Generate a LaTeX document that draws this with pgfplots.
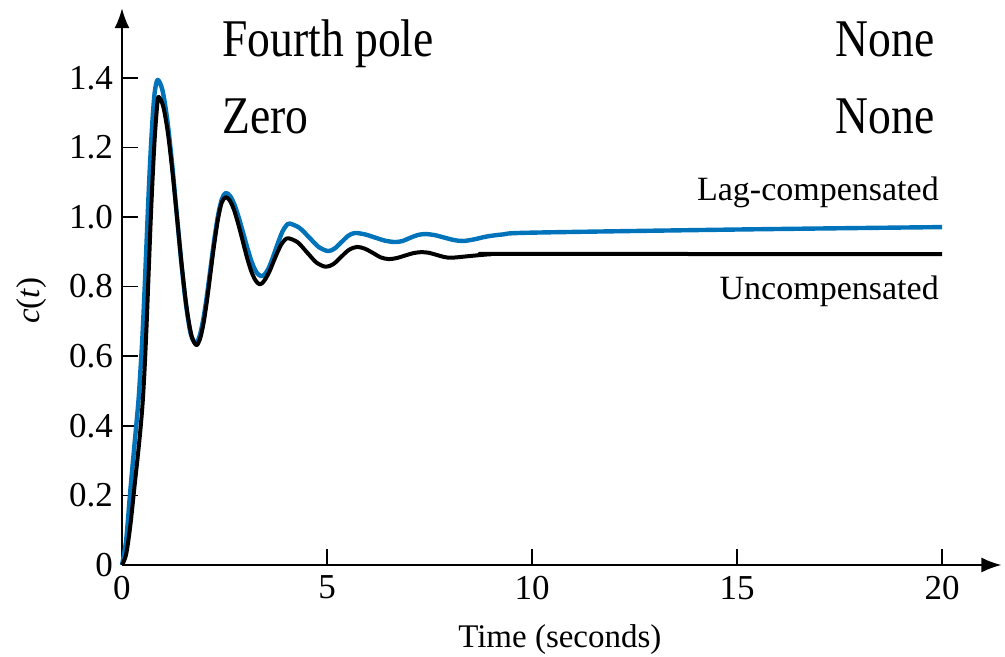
\documentclass[border=0pt]{standalone}
\usepackage{pgfplots}
\pgfplotsset{compat=1.18}
\usepackage{graphicx}
\usepackage{fontspec}
\setmainfont{Liberation Serif}
\usetikzlibrary{arrows.meta}
\definecolor{lagblue}{RGB}{0,115,186}
\begin{document}
\begin{tikzpicture}
\begin{axis}[
  x=20.5pt, y=174pt,
  xmin=0, xmax=21.45, ymin=0, ymax=1.6,
  axis x line*=bottom, axis y line*=left,
  axis line style={line width=1pt, -{Latex[length=10pt,width=7.5pt]}},
  tick align=inside,
  major tick length=8pt,
  tick style={black, line width=0.8pt},
  xtick={0,5,10,15,20},
  ytick={0,0.2,0.4,0.6,0.8,1.0,1.2,1.4},
  yticklabels={0,0.2,0.4,0.6,0.8,1.0,1.2,1.4},
  /pgf/number format/assume math mode=true,
  tick label style={font=\fontsize{17.5}{20}\selectfont},
  xticklabel style={yshift=-2pt},
  yticklabel style={xshift=-1pt},
  xlabel={Time (seconds)},
  ylabel={\textit{c}(\textit{t})},
  label style={font=\fontsize{16.5}{20}\selectfont},
  x label style={at={(axis cs:10.68,-0.2385)}, anchor=base},
  y label style={at={(axis cs:-2.2,0.76)}, anchor=center, rotate=0},
  clip=false,
]
\addplot[lagblue, line width=2.2pt, smooth, line join=round] coordinates {
(0,0) (0.1,0.07) (0.2,0.21) (0.3,0.34) (0.4,0.47) (0.45,0.56) (0.5,0.66)
(0.55,0.79) (0.6,0.93) (0.65,1.07) (0.7,1.19) (0.75,1.29) (0.8,1.36)
(0.87,1.394) (0.985,1.365) (1.10,1.283) (1.215,1.161) (1.33,1.016)
(1.445,0.871) (1.56,0.749) (1.675,0.665) (1.79,0.638) (1.8825,0.654)
(1.975,0.701) (2.0675,0.771) (2.16,0.854) (2.2525,0.936) (2.345,1.006)
(2.4375,1.052) (2.53,1.069) (2.639,1.060) (2.7475,1.034) (2.856,0.995)
(2.965,0.950) (3.074,0.904) (3.1825,0.865) (3.291,0.839) (3.40,0.830)
(3.486,0.836) (3.5725,0.852) (3.659,0.877) (3.745,0.906) (3.831,0.934)
(3.9175,0.959) (4.004,0.975) (4.09,0.981) (4.325,0.969) (4.56,0.942)
(4.795,0.914) (5.03,0.902) (5.1925,0.910) (5.355,0.928) (5.5175,0.946)
(5.68,0.954) (5.925,0.950) (6.17,0.941) (6.415,0.932) (6.66,0.928)
(6.8425,0.931) (7.025,0.940) (7.2075,0.948) (7.39,0.951) (7.6225,0.948)
(7.855,0.941) (8.0875,0.934) (8.32,0.931) (8.6,0.936) (8.9,0.944)
(9.3,0.950) (10,0.955) (15,0.964) (20,0.971)
};
\addplot[black, line width=2pt, smooth, line join=round] coordinates {
(0,0) (0.1,0.03) (0.2,0.11) (0.3,0.22) (0.4,0.33) (0.45,0.39) (0.5,0.46)
(0.55,0.56) (0.6,0.69) (0.65,0.84) (0.7,0.99) (0.75,1.12) (0.8,1.23)
(0.85,1.31) (0.89,1.345) (1.005,1.318) (1.12,1.241) (1.235,1.125)
(1.35,0.989) (1.465,0.852) (1.58,0.736) (1.695,0.659) (1.81,0.632)
(1.899,0.648) (1.988,0.694) (2.076,0.763) (2.165,0.845) (2.254,0.926)
(2.343,0.995) (2.431,1.041) (2.53,1.057) (2.63,1.047) (2.73,1.021)
(2.835,0.980) (2.94,0.933) (3.045,0.885) (3.15,0.845) (3.255,0.818)
(3.35,0.807) (3.43,0.811) (3.52,0.826) (3.61,0.847) (3.70,0.873)
(3.79,0.898) (3.88,0.920) (3.97,0.934) (4.06,0.939) (4.288,0.927)
(4.515,0.898) (4.743,0.869) (4.97,0.857) (5.16,0.865) (5.35,0.886)
(5.54,0.906) (5.73,0.914) (5.92,0.909) (6.115,0.897) (6.31,0.884)
(6.5,0.879) (6.7,0.882) (6.9,0.889) (7.1,0.896) (7.3,0.899) (7.49,0.897)
(7.675,0.891) (7.86,0.885) (8.05,0.883) (8.5,0.888) (9.0,0.893)
(9.5,0.894) (20,0.893)
};
\node[anchor=base west, inner sep=0pt, font=\fontsize{26.5}{30}\selectfont] at (axis cs:2.44,1.46) {\scalebox{0.86}[1]{Fourth pole}};
\node[anchor=base east, inner sep=0pt, font=\fontsize{26.5}{30}\selectfont] at (axis cs:19.83,1.46) {\scalebox{0.86}[1]{None}};
\node[anchor=base west, inner sep=0pt, font=\fontsize{26.5}{30}\selectfont] at (axis cs:2.44,1.241) {\scalebox{0.86}[1]{Zero}};
\node[anchor=base east, inner sep=0pt, font=\fontsize{26.5}{30}\selectfont] at (axis cs:19.83,1.241) {\scalebox{0.86}[1]{None}};
\node[anchor=base east, inner sep=0pt, font=\fontsize{17}{20}\selectfont] at (axis cs:19.93,1.046) {Lag-compensated};
\node[anchor=base east, inner sep=0pt, font=\fontsize{17}{20}\selectfont] at (axis cs:19.93,0.764) {Uncompensated};
\coordinate (O) at (axis cs:0,0);
\end{axis}
\pgfresetboundingbox
\path[use as bounding box] (O) ++(-61pt,-46pt) rectangle ++(502.5pt,328.5pt);
\end{tikzpicture}
\end{document}
